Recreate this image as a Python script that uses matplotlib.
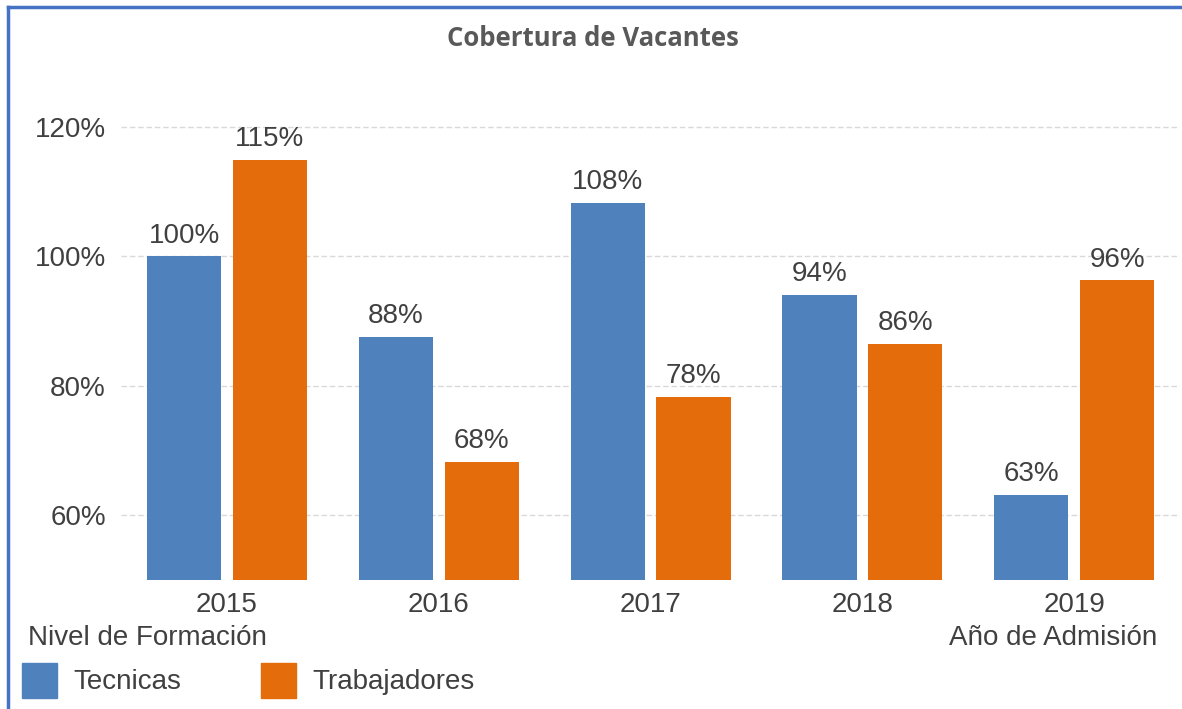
import matplotlib
matplotlib.use('Agg')
import matplotlib.pyplot as plt
from matplotlib.patches import Rectangle
import numpy as np

years = ['2015', '2016', '2017', '2018', '2019']
tecnicas = [100.0, 87.5, 108.2, 94.0, 63.2]
trabajadores = [114.9, 68.3, 78.3, 86.5, 96.3]
yticks = [60, 80, 100, 120]

BLUE = '#4F81BD'
ORANGE = '#E46C0A'
TXT = '#404040'
FONT = 'Liberation Sans'
FS = 20

fig = plt.figure(figsize=(11.82, 7.09), dpi=100)
ax = fig.add_axes([0.1024, 0.182, 0.896, 0.6847])

x = np.arange(len(years))
w = 0.35
off = 0.2025
b1 = ax.bar(x - off, tecnicas, w, bottom=0, color=BLUE, zorder=2)
b2 = ax.bar(x + off, trabajadores, w, bottom=0, color=ORANGE, zorder=2)

for bars, vals in ((b1, tecnicas), (b2, trabajadores)):
    for r, v in zip(bars, vals):
        ax.text(r.get_x() + r.get_width() / 2, v + 1.2, f'{v:.0f}%', ha='center', va='bottom',
                fontsize=FS, color=TXT, family=FONT)

ax.set_xlim(-0.5, 4.5)
ax.set_ylim(50, 125)
ax.set_yticks(yticks)
ax.set_yticklabels([f'{t}%' for t in yticks], fontsize=FS, color=TXT, family=FONT)
ax.set_xticks(x)
ax.set_xticklabels(years, fontsize=FS, color=TXT, family=FONT)
ax.tick_params(length=0, pad=9)
ax.tick_params(axis='y', pad=11)
ax.grid(axis='y', color='#D9D9D9', ls=(0, (4, 2)), lw=1, zorder=0)
for s in ax.spines.values():
    s.set_visible(False)

fig.text(0.502, 0.946, 'Cobertura de Vacantes', ha='center', va='center', fontsize=18.5,
         fontweight='bold', color='#595959', family='Open Sans')
fig.text(0.024, 1 - 638 / 709, 'Nivel de Formación', ha='left', va='center', fontsize=FS, color=TXT, family=FONT)
fig.text(0.979, 1 - 638 / 709, 'Año de Admisión', ha='right', va='center', fontsize=FS, color=TXT, family=FONT)

# legend
for px, col, lab in ((22, BLUE, 'Tecnicas'), (261, ORANGE, 'Trabajadores')):
    fig.patches.append(Rectangle((px / 1182, 1 - 698 / 709), 35 / 1182, 35 / 709,
                                 transform=fig.transFigure, color=col, figure=fig))
    fig.text((px + 51) / 1182, 1 - 682 / 709, lab, ha='left', va='center', fontsize=FS,
             color=TXT, family=FONT)

# frame
fig.add_artist(plt.Line2D([8 / 1182, 8 / 1182], [0, 1 - 7 / 709], color='#4472C4', lw=2.5,
                          transform=fig.transFigure))
fig.add_artist(plt.Line2D([8 / 1182, 1], [1 - 7 / 709, 1 - 7 / 709], color='#4472C4', lw=2.5,
                          transform=fig.transFigure))

fig.savefig('out.png', dpi=100)
